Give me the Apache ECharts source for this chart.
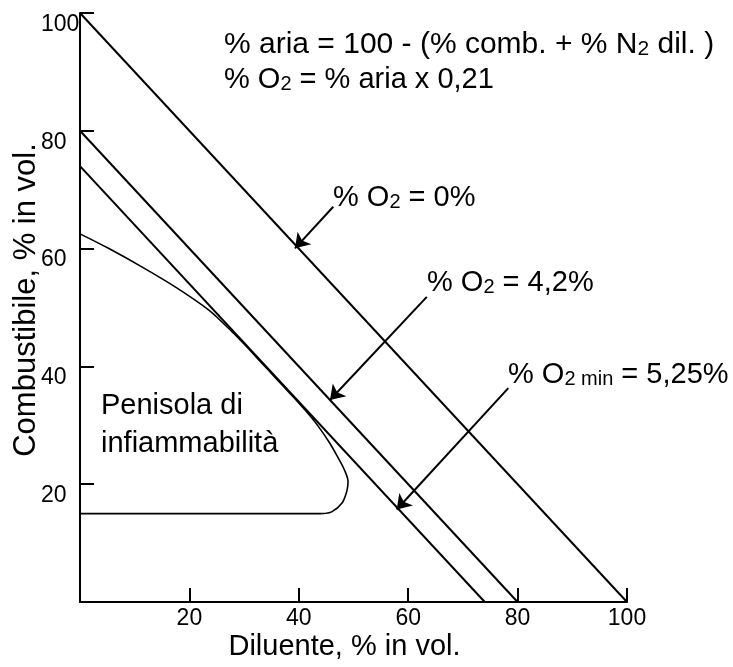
<!DOCTYPE html>
<html><head><meta charset="utf-8">
<script src="https://cdn.jsdelivr.net/npm/echarts@6/dist/echarts.min.js"></script>
<style>html,body{margin:0;padding:0;background:#fff}#c{width:733px;height:667px}</style>
</head><body><div id="c"></div>
<script>
// ---- data ----
const axisTicks = [0, 20, 40, 60, 80, 100];
const lineO2Zero = [[0, 100], [100, 0]];      // % O2 = 0%
const lineO2Four = [[0, 80], [80, 0]];        // % O2 = 4,2%
const lineO2Min = [[0, 74], [74, 0]];         // % O2 min = 5,25%
const curveX = [0, 5.2, 11.3, 17.4, 23.5, 27, 30, 33, 36, 39, 41.5, 43.5, 45.5, 47, 48.3, 49.0, 48.8, 47.9, 46.0, 44.2];
const curveY = [62.5, 60.05, 56.9, 53.5, 49.6, 46.6, 43.8, 40.8, 37.8, 34.8, 32.2, 29.9, 27.2, 24.8, 22.5, 20.5, 18.9, 16.8, 15.3, 15];
const curveBase = [[44.2, 15], [0, 15]];
const arrowFrom = [[46.3, 67.1], [63.4, 51.8], [78.3, 36.3]];
const arrowTo = [[39.3, 60.05], [45.7, 34.3], [57.9, 15.7]];

const FF = "'Liberation Sans', Arial, Helvetica, sans-serif";
const chart = echarts.init(document.getElementById('c'), null, {renderer: 'canvas'});

function lineSeries(data, width) {
  return {type: 'line', data: data, symbol: 'none', silent: true, animation: false,
    lineStyle: {color: '#000', width: width}, z: 3};
}
function richText(x, y, text, fs) {
  return {type: 'text', x: x, y: y, silent: true, z: 10,
    style: {text: text, align: 'left', verticalAlign: 'top', textAlign: 'left', textVerticalAlign: 'top',
      rich: {
        b: {fontSize: fs, fontFamily: FF, fill: '#000', color: '#000', verticalAlign: 'bottom'},
        s: {fontSize: Math.round(fs * 0.69), fontFamily: FF, fill: '#000', color: '#000', verticalAlign: 'bottom'}
      }}};
}

const curveData = curveX.map((x, i) => [x, curveY[i]]);
const axisCommon = {
  type: 'value', min: axisTicks[0], max: axisTicks[axisTicks.length - 1], interval: axisTicks[1] - axisTicks[0],
  splitLine: {show: false},
  axisLine: {show: true, onZero: false, lineStyle: {color: '#000', width: 2}},
  axisTick: {show: true, inside: true, length: 14, lineStyle: {color: '#000', width: 2}}
};

chart.setOption({
  animation: false,
  backgroundColor: '#fff',
  textStyle: {fontFamily: FF},
  grid: {left: 80, right: 106, top: 13, bottom: 65, containLabel: false, outerBoundsMode: 'none'},
  xAxis: Object.assign({}, axisCommon, {
    name: 'Diluente, % in vol.', nameLocation: 'middle', nameGap: 30, nameMoveOverlap: false,
    nameTextStyle: {fontSize: 29, fontFamily: FF, color: '#000', padding: [0, 18, 0, 0]},
    axisLabel: {fontSize: 23, fontFamily: FF, color: '#000', margin: 5, showMinLabel: false}
  }),
  yAxis: Object.assign({}, axisCommon, {
    name: 'Combustibile, % in vol.', nameLocation: 'middle', nameGap: 38, nameMoveOverlap: false,
    nameTextStyle: {fontSize: 31, fontFamily: FF, color: '#000', padding: [0, 0, 0, 15]},
    axisLabel: {fontSize: 23, fontFamily: FF, color: '#000', margin: 39, align: 'left', verticalAlign: 'top', showMinLabel: false}
  }),
  series: [
    lineSeries(lineO2Zero, 2),
    lineSeries(lineO2Four, 2),
    lineSeries(lineO2Min, 2),
    Object.assign(lineSeries(curveData, 1.6), {smooth: 0.3}),
    lineSeries(curveBase, 1.6),
    {
      type: 'lines', coordinateSystem: 'cartesian2d', silent: true, animation: false, z: 4,
      symbol: ['none', 'arrow'], symbolSize: 14,
      lineStyle: {color: '#000', width: 2, opacity: 1},
      data: arrowFrom.map((p, i) => ({coords: [p, arrowTo[i]]}))
    }
  ],
  graphic: {elements: [
    richText(224, 30, '{b|% aria = 100 - (% comb. + % N}{s|2}{b| dil. )}', 30),
    richText(224, 65, '{b|% O}{s|2}{b| = % aria x 0,21}', 29),
    richText(333, 183, '{b|% O}{s|2}{b| = 0%}', 29),
    richText(427, 268, '{b|% O}{s|2}{b| = 4,2%}', 29),
    richText(508, 360, '{b|% O}{s|2 min}{b| = 5,25%}', 29),
    {type: 'text', x: 101, y: 387, silent: true, z: 10,
      style: {text: 'Penisola di\ninfiammabilità', fontSize: 29, fontFamily: FF, fill: '#000', lineHeight: 38,
        align: 'left', verticalAlign: 'top', textAlign: 'left', textVerticalAlign: 'top'}}
  ]}
});
</script>
</body></html>
